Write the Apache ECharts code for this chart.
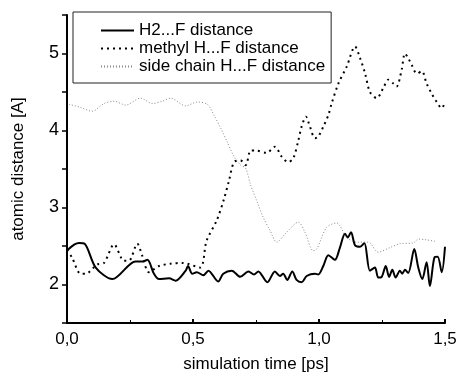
<!DOCTYPE html>
<html>
<head>
<meta charset="utf-8">
<script src="https://cdn.jsdelivr.net/npm/echarts@6/dist/echarts.min.js"></script>
<style>
  html, body { margin: 0; padding: 0; background: #fff; }
  #chart { width: 461px; height: 379px; }
</style>
</head>
<body>
<div id="chart"></div>
<script>
// series names as in the legend
var seriesNames = ['H2...F distance', 'methyl H...F distance', 'side chain H...F distance']

// [time (ps), distance (A)]
var h2Data = [
    [0, 2.44], [0.03, 2.52], [0.048, 2.54], [0.07, 2.53], [0.114, 2.22], [0.18, 2.07],
    [0.272, 2.30], [0.30, 2.30], [0.319, 2.32], [0.345, 2.14], [0.365, 2.07], [0.405, 2.08],
    [0.431, 2.05], [0.471, 2.18], [0.48, 2.24], [0.497, 2.14], [0.515, 2.16], [0.541, 2.12],
    [0.561, 2.18], [0.60, 2.04], [0.62, 2.14], [0.654, 2.18], [0.687, 2.10], [0.72, 2.17],
    [0.742, 2.13], [0.759, 2.17], [0.795, 2.03], [0.825, 2.17], [0.845, 2.11], [0.858, 2.14],
    [0.874, 2.06], [0.894, 2.17], [0.911, 2.06], [0.931, 2.03], [0.951, 2.11], [0.984, 2.14],
    [0.997, 2.13], [1.017, 2.24], [1.037, 2.38], [1.063, 2.32], [1.083, 2.48], [1.103, 2.66],
    [1.114, 2.61], [1.127, 2.68], [1.143, 2.51], [1.163, 2.49], [1.18, 2.54], [1.202, 2.18],
    [1.222, 2.22], [1.235, 2.09], [1.249, 2.10], [1.265, 2.24], [1.278, 2.10], [1.291, 2.19],
    [1.304, 2.09], [1.321, 2.18], [1.33, 2.14], [1.341, 2.19], [1.354, 2.15], [1.378, 2.46],
    [1.394, 2.22], [1.41, 2.07], [1.427, 2.29], [1.44, 1.98], [1.458, 2.35], [1.471, 2.36],
    [1.487, 2.16], [1.5, 2.49]
]
var methylData = [
    [0, 2.45], [0.02, 2.35], [0.054, 2.14], [0.074, 2.14], [0.12, 2.26], [0.147, 2.28],
    [0.187, 2.52], [0.226, 2.31], [0.246, 2.31], [0.279, 2.53], [0.299, 2.37], [0.325, 2.16],
    [0.365, 2.24], [0.411, 2.27], [0.46, 2.28], [0.528, 2.22], [0.554, 2.57], [0.594, 2.83],
    [0.623, 3.11], [0.643, 3.35], [0.663, 3.59], [0.689, 3.61], [0.709, 3.55], [0.729, 3.74],
    [0.749, 3.74], [0.792, 3.71], [0.825, 3.79], [0.852, 3.66], [0.878, 3.59], [0.898, 3.64],
    [0.918, 3.87], [0.931, 4.05], [0.948, 4.18], [0.964, 4.05], [0.984, 3.90], [0.997, 3.92],
    [1.017, 4.05], [1.037, 4.20], [1.05, 4.35], [1.077, 4.61], [1.11, 4.83], [1.143, 5.09],
    [1.163, 4.94], [1.183, 4.74], [1.202, 4.50], [1.229, 4.42], [1.255, 4.55], [1.275, 4.66],
    [1.295, 4.61], [1.308, 4.57], [1.328, 4.79], [1.341, 5.00], [1.354, 4.94], [1.368, 4.85],
    [1.388, 4.74], [1.408, 4.77], [1.427, 4.61], [1.447, 4.48], [1.467, 4.37], [1.487, 4.29],
    [1.5, 4.37]
]
var sideChainData = [
    [0.008, 4.34], [0.054, 4.30], [0.10, 4.25], [0.147, 4.35], [0.187, 4.38], [0.233, 4.33],
    [0.292, 4.42], [0.339, 4.35], [0.378, 4.38], [0.411, 4.42], [0.471, 4.32], [0.517, 4.37],
    [0.557, 4.34], [0.583, 4.20], [0.61, 4.03], [0.636, 3.85], [0.663, 3.66], [0.689, 3.55],
    [0.709, 3.51], [0.729, 3.29], [0.755, 3.07], [0.779, 2.87], [0.806, 2.70], [0.832, 2.55],
    [0.872, 2.68], [0.918, 2.81], [0.944, 2.68], [0.977, 2.44], [0.991, 2.46], [1.03, 2.74],
    [1.07, 2.80], [1.11, 2.61], [1.15, 2.55], [1.196, 2.55], [1.235, 2.42], [1.282, 2.48],
    [1.321, 2.53], [1.375, 2.54], [1.394, 2.59], [1.427, 2.58], [1.46, 2.56]
]

var xMin = 0, xMax = 1.5, xStep = 0.5
var yMin = 1.5, yMax = 5.5, yStep = 0.5

var fontFamily = '"Liberation Sans", Arial, sans-serif'

function commaLabel(v) {
    return v.toFixed(1).replace('.', ',')
}

var chart = echarts.init(document.getElementById('chart'))
chart.setOption({
    animation: false,
    backgroundColor: '#fff',
    grid: { left: 67, right: 16, top: 15, bottom: 56 },
    legend: {
        orient: 'vertical',
        left: 73,
        top: 12,
        data: seriesNames,
        itemWidth: 33,
        itemHeight: 12,
        itemGap: 1,
        padding: [10, 6, 8, 27],
        borderColor: '#222',
        borderWidth: 1,
        itemStyle: { opacity: 0 },
        textStyle: { fontFamily: fontFamily, fontSize: 17, color: '#000' }
    },
    xAxis: {
        type: 'value',
        min: xMin,
        max: xMax,
        interval: xStep,
        name: 'simulation time [ps]',
        nameLocation: 'middle',
        nameGap: 33,
        nameTextStyle: { fontFamily: fontFamily, fontSize: 17, color: '#000' },
        axisLine: { lineStyle: { color: '#000', width: 2 } },
        axisTick: { inside: true, length: 4, lineStyle: { color: '#000', width: 2 } },
        minorTick: { show: true, splitNumber: 2, length: 3, lineStyle: { color: '#000', width: 1 } },
        splitLine: { show: false },
        axisLabel: {
            formatter: commaLabel,
            fontFamily: fontFamily, fontSize: 17, color: '#000', margin: 8
        }
    },
    yAxis: {
        type: 'value',
        min: yMin,
        max: yMax,
        interval: yStep,
        name: 'atomic distance [A]',
        nameLocation: 'middle',
        nameGap: 40,
        nameTextStyle: { fontFamily: fontFamily, fontSize: 17, color: '#000' },
        axisLine: { show: true, lineStyle: { color: '#000', width: 2 } },
        axisTick: { show: true, length: 5, lineStyle: { color: '#000', width: 1.5 } },
        splitLine: { show: false },
        axisLabel: {
            formatter: function (v) { return v % 1 === 0 ? String(v) : '' },
            fontFamily: fontFamily, fontSize: 18, color: '#000', margin: 8
        }
    },
    series: [
        {
            name: seriesNames[0],
            type: 'line',
            data: h2Data,
            smooth: 0.3,
            symbol: 'none',
            lineStyle: { color: '#000', width: 2 },
            itemStyle: { color: '#000' }
        },
        {
            name: seriesNames[1],
            type: 'line',
            data: methylData,
            smooth: 0.3,
            symbol: 'none',
            lineStyle: { color: '#000', width: 2, type: [2, 4] },
            itemStyle: { color: '#000' }
        },
        {
            name: seriesNames[2],
            type: 'line',
            data: sideChainData,
            smooth: 0.3,
            symbol: 'none',
            lineStyle: { color: '#888', width: 1, type: [1, 2] },
            itemStyle: { color: '#888' }
        }
    ]
})
</script>
</body>
</html>
